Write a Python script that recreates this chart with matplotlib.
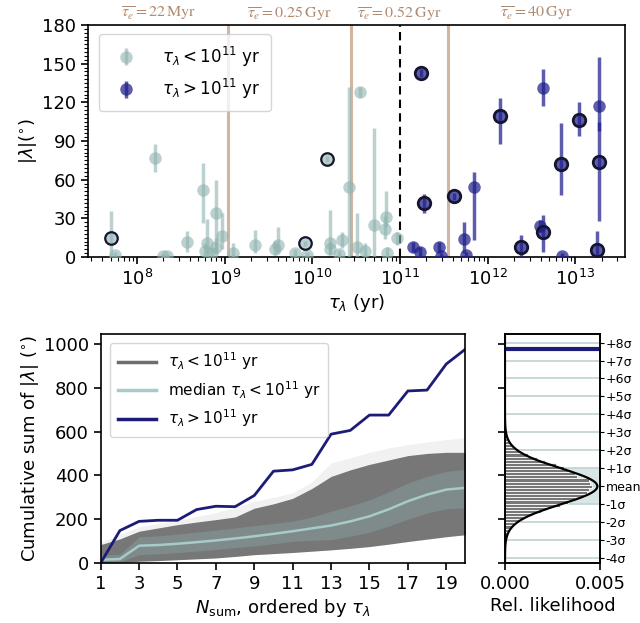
import numpy as np
import matplotlib.pyplot as plt
from matplotlib.ticker import LogLocator, NullFormatter

# --- top panel: |lambda| vs tau_lambda ---------------------------------
# short-timescale systems (tau < 1e11 yr)
tau_short = [5.1e7, 5.6e7, 1.6e8, 2.0e8, 2.2e8, 3.7e8, 5.6e8, 7.9e8, 9.3e8, 6.2e8,
             5.9e8, 7.9e8, 7.1e8, 1.23e9, 2.2e9, 3.7e9, 4.1e9, 6.3e9, 8.3e9, 8.7e9,
             1.45e10, 1.6e10, 1.6e10, 2.0e10, 2.2e10, 2.6e10, 3.5e10, 3.2e10, 4.0e10,
             5.0e10, 6.9e10, 6.8e10, 7.1e10, 9.1e10]
lam_short = [15, 1.5, 77, 1, 0.5, 12, 52, 34, 16, 10.5,
             5, 8, 3, 3, 9, 6.5, 9, 3, 10.5, 1.5,
             76, 10.5, 6.5, 2.3, 13, 54, 128, 8, 5,
             25, 31, 22, 3, 14.5]
lo_short = [15, 1.5, 11, 1, 0.5, 8, 26, 30, 10, 8,
            5, 6, 3, 3, 6, 5, 6, 3, 2, 1.5,
            2, 8, 5, 2.3, 6, 54, 4, 8, 5,
            25, 8, 8, 3, 5]
hi_short = [21, 2, 11, 1, 1, 8, 21, 26, 18, 19,
            6, 7, 4, 8, 12, 6, 14, 3, 2, 2,
            2, 26, 5, 3, 6, 78, 4, 26, 6,
            75, 20, 10, 5, 5]
ring_short = [1, 0, 0, 0, 0, 0, 0, 0, 0, 0,
              0, 0, 0, 0, 0, 0, 0, 0, 1, 0,
              1, 0, 0, 0, 0, 0, 0, 0, 0,
              0, 0, 0, 0, 0]

# long-timescale systems (tau > 1e11 yr)
tau_long = [1.72e11, 1.86e11, 4.1e11, 6.9e11, 5.4e11, 5.6e11, 1.41e11, 1.7e11, 2.75e11,
            2.95e11, 1.38e12, 2.4e12, 4.3e12, 3.9e12, 4.3e12, 7.1e12, 6.8e12, 1.1e13,
            1.86e13, 1.86e13, 1.78e13]
lam_long = [142.5, 42, 47, 54, 14, 1.5, 7.5, 4, 7.5,
            1, 109, 8, 131, 24, 19.5, 1, 72, 106,
            117, 74, 5.5]
lo_long = [3, 8, 3, 41, 11, 1.5, 4, 4, 4,
           1, 21, 8, 14, 5, 16, 1, 24, 12,
           19, 46, 5.5]
hi_long = [3, 7, 3, 12, 13, 2, 4, 4, 4,
           2, 14, 9, 15, 5, 13, 2, 32, 14,
           38, 31, 15]
ring_long = [1, 1, 1, 0, 0, 0, 0, 0, 0,
             0, 1, 1, 0, 0, 1, 0, 1, 1,
             0, 1, 1]

# mean evolutionary timescales and their boundaries
tau_e_lines = [1.1e9, 2.75e10, 3.55e11]
tau_e_labels = [r'$\overline{\tau_e} = 22\,\mathrm{Myr}$', r'$\overline{\tau_e} = 0.25\,\mathrm{Gyr}$',
                r'$\overline{\tau_e} = 0.52\,\mathrm{Gyr}$', r'$\overline{\tau_e} = 40\,\mathrm{Gyr}$']
tau_split = 1e11
tau_ticks = [1e8, 1e9, 1e10, 1e11, 1e12, 1e13]

# --- bottom panel: cumulative sums ----------------------------------
n_sum = np.arange(1, 21)
cum_long = [0, 148, 190, 195, 195, 244, 259, 257, 308, 419,
            425, 450, 588, 605, 675, 675, 785, 789, 908, 976]
med_short = [15, 18, 79, 82, 88, 95, 103, 112, 122, 133,
             145, 158, 171, 190, 213, 245, 282, 312, 335, 343]
inner_hi = [35, 40, 119, 124, 132, 141, 150, 160, 170, 180,
            191, 210, 236, 260, 288, 325, 365, 395, 418, 427]
inner_lo = [2, 5, 38, 42, 48, 54, 62, 70, 78, 88,
            99, 103, 107, 122, 140, 168, 200, 228, 248, 252]
outer_hi = [84, 110, 145, 160, 175, 187, 198, 210, 250, 270,
            295, 340, 395, 425, 450, 470, 490, 500, 505, 505]
outer_lo = [0, 2, 8, 11, 15, 19, 23, 30, 38, 43,
            48, 54, 60, 67, 75, 86, 98, 109, 120, 129]
faint_hi = [95, 130, 165, 180, 195, 212, 230, 255, 281, 300,
            320, 370, 457, 480, 505, 525, 540, 552, 563, 572]

# --- histogram of final sums for the short sample ---------------------
sum_mean = 350
sum_sigma = 82
hist_density = [0.00005, 0.0001, 0.00016, 0.00024, 0.00038, 0.0005, 0.0008, 0.0010,
                0.0014, 0.0019, 0.0022, 0.0029, 0.0033, 0.0037, 0.0042, 0.0043,
                0.0044, 0.0046, 0.0045, 0.0044, 0.0038, 0.0037, 0.0033, 0.0031,
                0.0027, 0.0021, 0.0017, 0.0012, 0.0008, 0.0006, 0.0004, 0.00025,
                0.00015, 0.0001, 0.00005]
hist_edges = np.linspace(100, 600, len(hist_density) + 1)
sigma_k = list(range(-4, 9))
sigma_labels = ['-4σ', '-3σ', '-2σ', '-1σ', 'mean', '+1σ', '+2σ', '+3σ',
                '+4σ', '+5σ', '+6σ', '+7σ', '+8σ']

c_short = '#8fb3b0'
c_long = '#1f1f8c'
c_navy = '#1c1c78'
c_tan = '#d2b4a2'

fig = plt.figure(figsize=(6.4, 6.23), dpi=100)
ax1 = fig.add_axes([0.1375, 0.5875, 0.839, 0.3724])
ax2 = fig.add_axes([0.1573, 0.0963, 0.570, 0.3676])
ax3 = fig.add_axes([0.789, 0.0963, 0.1484, 0.3676])


def draw_points(ax, tau, lam, lo, hi, ring, color, alpha, ew, label):
    tau = np.array(tau); lam = np.array(lam)
    lo = np.array(lo); hi = np.array(hi); ring = np.array(ring, dtype=bool)
    h = ax.errorbar(tau[~ring], lam[~ring], yerr=[lo[~ring], hi[~ring]], fmt='o',
                    ms=9, color=color, alpha=alpha, elinewidth=2.5, capsize=0,
                    mew=0, label=label, zorder=3)
    ax.errorbar(tau[ring], lam[ring], yerr=[lo[ring], hi[ring]], fmt='none',
                ecolor=color, alpha=alpha, elinewidth=2.5, capsize=0, zorder=3)
    ax.plot(tau[ring], lam[ring], 'o', ms=9, mfc=color, alpha=alpha, mec='none', zorder=4)
    ax.plot(tau[ring], lam[ring], 'o', ms=9, mfc='none', mec='#151530', mew=ew, zorder=5)
    return h


for x in tau_e_lines:
    ax1.axvline(x, color=c_tan, lw=2.2, zorder=1)
ax1.axvline(tau_split, color='k', lw=1.5, ls=(0, (4, 2.5)), zorder=2)

h1 = draw_points(ax1, tau_short, lam_short, lo_short, hi_short, ring_short,
                 c_short, 0.6, 1.6, r'$\tau_\lambda < 10^{11}$ yr')
h2 = draw_points(ax1, tau_long, lam_long, lo_long, hi_long, ring_long,
                 c_long, 0.72, 2.0, r'$\tau_\lambda > 10^{11}$ yr')

ax1.set_xscale('log')
ax1.set_xlim(10**7.44, 10**13.565)
ax1.set_xticks(tau_ticks)
ax1.xaxis.set_minor_locator(LogLocator(base=10, subs=np.arange(2, 10), numticks=20))
ax1.xaxis.set_minor_formatter(NullFormatter())
ax1.set_ylim(0, 180)
ax1.set_yticks(range(0, 181, 30))
ax1.yaxis.set_minor_locator(plt.MultipleLocator(3))
ax1.tick_params(labelsize=13, length=5, width=1.2)
ax1.tick_params(which='minor', length=3, width=0.8)
ax1.set_xlabel(r'$\tau_\lambda$ (yr)', fontsize=13, labelpad=2)
ax1.set_ylabel(r'$|\lambda|(^{\circ})$', fontsize=13, labelpad=2)
ax1.legend(handles=[h1, h2], loc='upper left', fontsize=12, handletextpad=1.2,
           borderpad=0.6, labelspacing=0.5, bbox_to_anchor=(0.005, 0.995))

# labels centred between the timescale boundaries
bounds = [10**7.44] + tau_e_lines + [10**13.565]
for i, lab in enumerate(tau_e_labels):
    xc = np.sqrt(bounds[i] * bounds[i + 1])
    ax1.text(xc, 182.5, lab, ha='center', va='bottom', fontsize=11.5,
             color='#b08a70', family='Liberation Serif', math_fontfamily='stix',
             clip_on=False)

# bottom-left: cumulative sums
ax2.fill_between(n_sum, outer_lo, faint_hi, color='#7a7a7a', alpha=0.1, lw=0)
ax2.fill_between(n_sum, outer_lo, outer_hi, color='#777777', lw=0)
ax2.fill_between(n_sum, inner_lo, inner_hi, color='#7f8b8b', lw=0)
ax2.plot(n_sum, med_short, color='#a8cac8', lw=1.8)
ax2.plot(n_sum, cum_long, color=c_navy, lw=2)
ax2.plot([], [], color='#6e6e6e', lw=2.5, label=r'$\tau_\lambda < 10^{11}$ yr')
ax2.plot([], [], color='#a8cac8', lw=2.5, label=r'median $\tau_\lambda < 10^{11}$ yr')
ax2.plot([], [], color=c_navy, lw=2.5, label=r'$\tau_\lambda > 10^{11}$ yr')
ax2.set_xlim(1, 20)
ax2.set_ylim(0, 1045)
ax2.set_xticks(range(1, 20, 2))
ax2.set_yticks(range(0, 1001, 200))
ax2.tick_params(labelsize=13, length=5, width=1.2)
ax2.set_xlabel(r'$N_{\mathrm{sum}}$, ordered by $\tau_\lambda$', fontsize=13, labelpad=3)
ax2.set_ylabel(r'Cumulative sum of $|\lambda|$ ($^{\circ}$)', fontsize=13, labelpad=2)
ax2.legend(loc='upper left', fontsize=11, handlelength=2.5, borderpad=0.5,
           labelspacing=0.45, bbox_to_anchor=(0.005, 0.995))

# bottom-right: distribution of the final sums
ax3.axhspan(sum_mean - sum_sigma, sum_mean + sum_sigma, color='#d9e6e6', lw=0, zorder=0)
for k in sigma_k:
    ax3.axhline(sum_mean + k * sum_sigma, color='#c3d6d6', lw=1.3, zorder=1)
ax3.barh(hist_edges[:-1], hist_density, height=np.diff(hist_edges), align='edge',
         color='#777777', edgecolor='white', lw=0.6, zorder=2)
yy = np.linspace(0, 1045, 400)
ax3.plot(np.exp(-0.5 * ((yy - sum_mean) / sum_sigma) ** 2) / (sum_sigma * np.sqrt(2 * np.pi)),
         yy, color='k', lw=1.6, zorder=3)
ax3.axhline(cum_long[-1], color=c_navy, lw=3, zorder=4)
ax3.set_xlim(0, 0.005)
ax3.set_ylim(0, 1045)
ax3.set_xticks([0, 0.005])
ax3.set_xticklabels(['0.000', '0.005'])
ax3.set_yticks(range(0, 1001, 200))
ax3.set_yticklabels([])
ax3.tick_params(labelsize=13, length=5, width=1.2)
ax3.set_xlabel('Rel. likelihood', fontsize=13, labelpad=3)
ax3r = ax3.twinx()
ax3r.set_ylim(0, 1045)
ax3r.set_yticks([sum_mean + k * sum_sigma for k in sigma_k])
ax3r.set_yticklabels(sigma_labels)
ax3r.tick_params(labelsize=9, length=3, pad=1)

for ax in (ax1, ax2, ax3, ax3r):
    for s in ax.spines.values():
        s.set_linewidth(1.2)

fig.savefig('out.png', dpi=100)
